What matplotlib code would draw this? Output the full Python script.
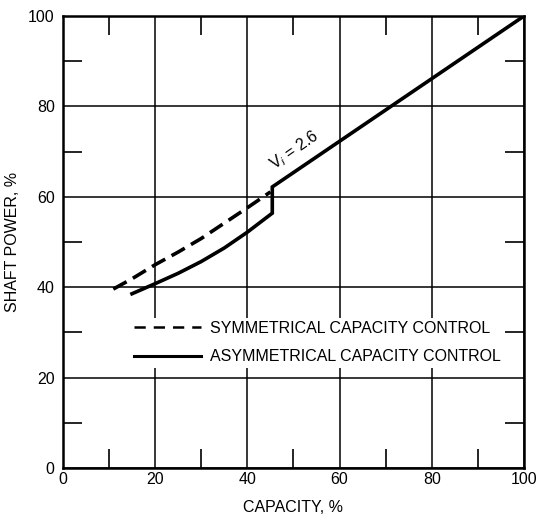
import matplotlib
matplotlib.use("Agg")
import matplotlib.pyplot as plt
from matplotlib.lines import Line2D
from matplotlib.ticker import MultipleLocator

plt.rcParams['font.family'] = ['Liberation Sans', 'DejaVu Sans']

# capacity (%) vs shaft power (%)
sym_cap = [10.9, 15, 20, 25, 30, 35, 40, 45.0]
sym_pow = [39.6, 41.9, 45.0, 47.8, 50.8, 54.2, 57.6, 61.1]

asym_cap = [14.6, 20, 25, 30, 35, 40, 45.4, 45.4, 100]
asym_pow = [38.4, 40.8, 43.1, 45.7, 48.7, 52.2, 56.4, 62.2, 100]

label_sym = "SYMMETRICAL CAPACITY CONTROL"
label_asym = "ASYMMETRICAL CAPACITY CONTROL"

fs = 11.5

fig = plt.figure(figsize=(5.39, 5.2), dpi=100)
ax = fig.add_axes([0.117, 0.1, 0.855, 0.869])

ax.plot(sym_cap, sym_pow, color='black', lw=2.6, dashes=[4.2, 2.0],
        solid_capstyle='butt', zorder=3)
ax.plot(asym_cap, asym_pow, color='black', lw=2.6, solid_joinstyle='miter',
        solid_capstyle='butt', zorder=3)

ax.set_xlim(0, 100)
ax.set_ylim(0, 100)
ax.xaxis.set_major_locator(MultipleLocator(20))
ax.yaxis.set_major_locator(MultipleLocator(20))
ax.xaxis.set_minor_locator(MultipleLocator(10))
ax.yaxis.set_minor_locator(MultipleLocator(10))
ax.grid(True, which='major', color='black', lw=1.1)
ax.tick_params(which='major', length=0, labelsize=fs)
ax.tick_params(axis='x', which='major', pad=3)
ax.tick_params(axis='y', which='major', pad=6)
ax.tick_params(which='minor', direction='in', length=14, width=1.2,
               top=True, right=True)
for s in ax.spines.values():
    s.set_linewidth(1.8)

ax.set_xlabel("CAPACITY, %", fontsize=fs, labelpad=9)
ax.set_ylabel("SHAFT POWER, %", fontsize=fs, labelpad=6)

ax.text(50.3, 70.3, r"V$_{i}$ = 2.6", fontsize=fs, rotation=35,
        ha='center', va='center',
        bbox=dict(facecolor='white', edgecolor='none', pad=0.5))

handles = [Line2D([], [], color='black', lw=1.8, dashes=[4.5, 3.2]),
           Line2D([], [], color='black', lw=2.2)]
leg = ax.legend(handles, [label_sym, label_asym], loc='upper left',
                bbox_to_anchor=(0.146, 0.333), fontsize=fs,
                handlelength=4.2, handletextpad=0.6, labelspacing=0.86,
                borderpad=0.2, borderaxespad=0.0, frameon=True, fancybox=False)
leg.get_frame().set_facecolor('white')
leg.get_frame().set_edgecolor('none')
leg.get_frame().set_alpha(1)

fig.savefig("out.png", dpi=100)
